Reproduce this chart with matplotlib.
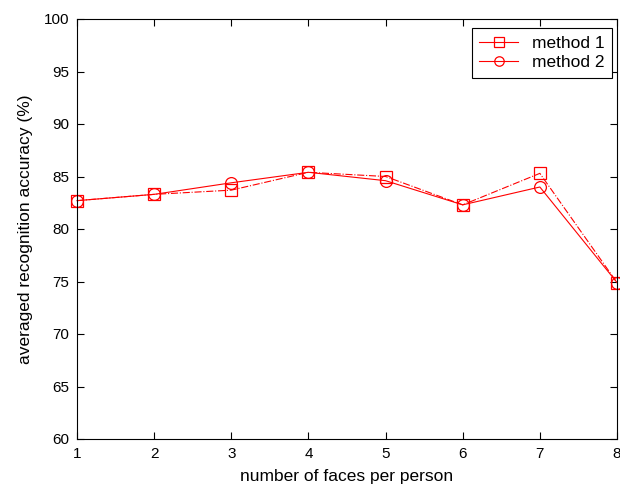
import matplotlib
matplotlib.use("Agg")
import matplotlib.pyplot as plt

plt.rcParams['font.family'] = ['Liberation Sans', 'DejaVu Sans']

faces = [1, 2, 3, 4, 5, 6, 7, 8]
method1 = [82.7, 83.3, 83.7, 85.4, 85.0, 82.3, 85.3, 74.9]
method2 = [82.7, 83.3, 84.4, 85.4, 84.6, 82.3, 84.0, 74.9]
xticks = [1, 2, 3, 4, 5, 6, 7, 8]
yticks = [60, 65, 70, 75, 80, 85, 90, 95, 100]

W, H = 620, 488
fig = plt.figure(figsize=(6.2, 4.88), dpi=100)
ax = fig.add_axes([77/W, 1 - 439/H, (617-77)/W, (439-19)/H])

ax.plot(faces, method1, color='#ff0000', linestyle='-.', linewidth=0.8,
        marker='s', markersize=8.5, markerfacecolor='none', markeredgecolor='#ff0000',
        markeredgewidth=0.9, label='method 1', clip_on=False)
ax.plot(faces, method2, color='#ff0000', linestyle='-', linewidth=0.8,
        marker='o', markersize=8.5, markerfacecolor='none', markeredgecolor='#ff0000',
        markeredgewidth=0.9, label='method 2', clip_on=False)

ax.set_xlim(1, 8)
ax.set_ylim(60, 100)
ax.set_xticks(xticks)
ax.set_yticks(yticks)
ax.tick_params(direction='in', top=True, right=True, labelsize=11, length=5, width=0.8, pad=5.5)
for s in ax.spines.values():
    s.set_linewidth(0.8)
ax.set_xlabel('number of faces per person', fontsize=12.5, labelpad=6)
ax.set_ylabel('averaged recognition accuracy (%)', fontsize=12.5, labelpad=8)

leg = ax.legend(loc='upper right', bbox_to_anchor=(612/W, 1 - 28/H),
                bbox_transform=fig.transFigure, borderaxespad=0,
                fontsize=12.5, frameon=True, fancybox=False,
                edgecolor='black', framealpha=1, borderpad=0.45,
                labelspacing=0.25, handlelength=2.2, handletextpad=0.8,
                markerscale=0.8)
leg.get_frame().set_linewidth(0.8)
for ln in leg.get_lines():
    ln.set_linestyle('-')

fig.savefig('out.png', dpi=100)
